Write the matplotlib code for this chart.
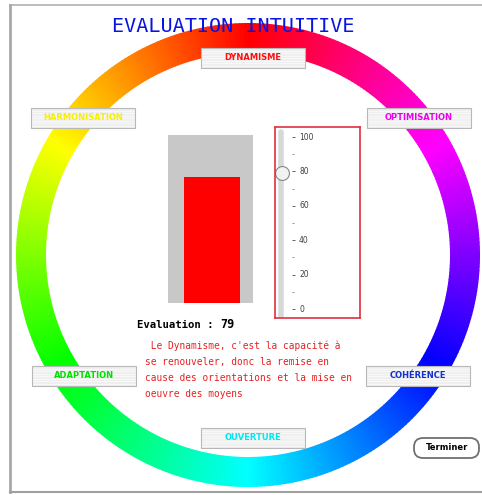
import numpy as np
import matplotlib
matplotlib.use("Agg")
import matplotlib.pyplot as plt
from matplotlib.patches import Wedge, Rectangle, FancyBboxPatch
from matplotlib.colors import hsv_to_rgb

W, H = 482, 495

# data
title = "EVALUATION INTUITIVE"
score = 79
criteria = ["DYNAMISME", "OPTIMISATION", "COHÉRENCE", "OUVERTURE", "ADAPTATION", "HARMONISATION"]
criteria_colors = ["#ff1010", "#ee00ee", "#1030d0", "#00e8f0", "#00e000", "#f8f000"]
slider_major = [0, 20, 40, 60, 80, 100]
slider_minor = [10, 30, 50, 70, 90]
description = [" Le Dynamisme, c'est la capacité à",
               "se renouveler, donc la remise en",
               "cause des orientations et la mise en",
               "oeuvre des moyens"]

# label box centres in pixel coords (x, y from top)
box_pos = [(253, 58), (419, 118), (418, 376), (253, 438), (84, 376), (83, 118)]


def fy(y):
    return H - y


fig = plt.figure(figsize=(W / 100, H / 100), dpi=100)
ax = fig.add_axes([0, 0, 1, 1])
ax.set_xlim(0, W)
ax.set_ylim(0, H)
ax.axis("off")

# window frame
ax.plot([10, W], [fy(5), fy(5)], color="#b0b0b0", lw=1.2)
ax.plot([10, 10], [fy(5), fy(492)], color="#a8a8a8", lw=2.0)
ax.plot([10, W], [fy(492), fy(492)], color="#a0a0a0", lw=1.5)

# colour ring: red at top, hue decreasing clockwise
cx, cy, r_out, ring_w = 248, fy(255), 232, 30
for i in range(360):
    hue = ((i + 0.5 - 90) / 360.0) % 1.0
    col = hsv_to_rgb([hue, 1.0, 1.0])
    ax.add_patch(Wedge((cx, cy), r_out, i, i + 1.2, width=ring_w,
                       facecolor=col, edgecolor="none", zorder=1))

ax.text(233, fy(27), title, color="#0a14e0", fontsize=14.5,
        family="DejaVu Sans Mono", ha="center", va="center", zorder=5)

# criterion label boxes
bw, bh = 104, 20
for name, col, (x, y) in zip(criteria, criteria_colors, box_pos):
    x0, y0 = x - bw / 2, fy(y) - bh / 2
    ax.add_patch(Rectangle((x0, y0), bw, bh, facecolor="#efefef",
                           edgecolor="#b8b8b8", lw=0.8, zorder=3))
    for k in range(1, int(bh / 2.5)):
        ax.plot([x0 + 1, x0 + bw - 1], [y0 + k * 2.5, y0 + k * 2.5],
                color="#fafafa", lw=0.6, zorder=3)
    ax.text(x, fy(y), name, color=col, fontsize=6, fontweight="bold",
            ha="center", va="center", zorder=4)

# evaluation text
ax.text(137, fy(325), "Evaluation :", fontsize=7.7, fontweight="bold",
        family="DejaVu Sans Mono", ha="left", va="center")
ax.text(220, fy(324), str(score), fontsize=8.5, fontweight="bold",
        family="DejaVu Sans Mono", ha="left", va="center")
for k, line in enumerate(description):
    ax.text(145, fy(346 + k * 16), line, color="#e82020", fontsize=6.85,
            family="DejaVu Sans Mono", ha="left", va="center")

# Terminer button
ax.add_patch(FancyBboxPatch((414, fy(458)), 65, 20,
                            boxstyle="round,pad=0,rounding_size=9",
                            facecolor="white", edgecolor="#707070", lw=1.3))
ax.text(447, fy(448), "Terminer", fontsize=6, fontweight="bold",
        ha="center", va="center")

# bar gauge
bax = fig.add_axes([168 / W, 1 - 303 / H, 85 / W, 168 / H])
bax.set_facecolor("#c8c8c8")
bax.bar([0], [score], width=0.66, color="#ff0000")
bax.set_xlim(-0.52, 0.48)
bax.set_ylim(0, 105)
bax.set_xticks([])
bax.set_yticks([])
for s in bax.spines.values():
    s.set_visible(False)

# slider
sax = fig.add_axes([275 / W, 1 - 318 / H, 85 / W, 191 / H])
sax.set_xlim(0, 85)
px = 172.0 / 100
sax.set_ylim(-9 / px, 100 + 10 / px)
sax.set_xticks([])
sax.set_yticks([])
for s in sax.spines.values():
    s.set_color("#e03040")
    s.set_linewidth(1.2)
sax.plot([6, 6], [-4, 103], color="#d8d8d8", lw=4, solid_capstyle="round")
sax.hlines(slider_major, 17, 20, color="#606060", lw=0.7)
sax.hlines(slider_minor, 17, 19, color="#909090", lw=0.7)
for v in slider_major:
    sax.text(24, v, str(v), fontsize=5.5, color="#404040", ha="left", va="center")
sax.plot([7], [score], marker="o", markersize=10, markerfacecolor="#f2f2f2",
         markeredgecolor="#888888", markeredgewidth=0.8)

fig.savefig("out.png", dpi=100)
